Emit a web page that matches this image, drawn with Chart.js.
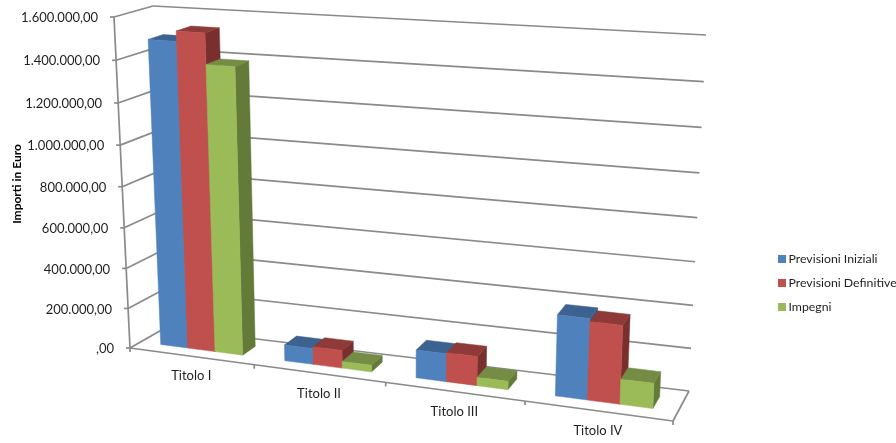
<!DOCTYPE html>
<html>
<head>
<meta charset="utf-8">
<style>
  html, body { margin: 0; padding: 0; background: #fff; }
  canvas { display: block; }
</style>
<script src="https://cdn.jsdelivr.net/npm/chart.js@4"></script>
</head>
<body>
<canvas id="chart" width="896" height="443"></canvas>
<script>
// Importi per titolo di bilancio
const categories = ["Titolo I", "Titolo II", "Titolo III", "Titolo IV"];
const previsioniIniziali = [1487000, 78000, 135000, 382000];
const previsioniDefinitive = [1535000, 87000, 140000, 368000];
const impegni = [1390000, 33000, 40000, 118000];
const yTickLabels = [",00", "200.000,00", "400.000,00", "600.000,00", "800.000,00",
  "1.000.000,00", "1.200.000,00", "1.400.000,00", "1.600.000,00"];

const FONT = "Lato";
const INK = "#1f1f1f";
const GRID = "#8a8a8a";

// Corners of the 3D box, indexed as [width, depth, height] with 0/1 flags.
const CORNERS = {
  "000": [130, 348], "100": [673, 421], "010": [165, 328], "110": [689, 391],
  "001": [114, 17],  "101": [689, 59],  "011": [153, 6],   "111": [706, 35]
};
// Perspective weights: larger means further from the camera.
const WEIGHT = { u: 0.89, v: 1.03, h: 0.95 };
const DEPTH_FRONT = 0.3, DEPTH_BACK = 0.7;

// Rational trilinear mapping from box coordinates to canvas pixels.
function project(u, v, h) {
  let sx = 0, sy = 0, sw = 0;
  for (const a of [0, 1]) for (const b of [0, 1]) for (const c of [0, 1]) {
    const basis = (a ? u : 1 - u) * (b ? v : 1 - v) * (c ? h : 1 - h);
    const wt = basis * (a ? WEIGHT.u : 1) * (b ? WEIGHT.v : 1) * (c ? WEIGHT.h : 1);
    const p = CORNERS["" + a + b + c];
    sx += p[0] * wt; sy += p[1] * wt; sw += wt;
  }
  return [sx / sw, sy / sw];
}

function segment(ctx, a, b) {
  ctx.beginPath();
  ctx.moveTo(a[0], a[1]);
  ctx.lineTo(b[0], b[1]);
  ctx.stroke();
}

function quad(ctx, pts, fill) {
  ctx.fillStyle = fill;
  ctx.strokeStyle = fill;
  ctx.lineWidth = 0.5;
  ctx.beginPath();
  pts.forEach((p, i) => i ? ctx.lineTo(p[0], p[1]) : ctx.moveTo(p[0], p[1]));
  ctx.closePath();
  ctx.fill();
  ctx.stroke();
}

const perspectiveBars = {
  id: "perspectiveBars",
  // The walls, floor and axis text sit behind the bars.
  beforeDatasetsDraw(chart) {
    const ctx = chart.ctx, yScale = chart.scales.y, xScale = chart.scales.x;
    const area = chart.chartArea;
    ctx.save();
    ctx.strokeStyle = GRID;
    ctx.lineWidth = 1.7;
    ctx.lineCap = "butt";

    yScale.ticks.forEach((tick) => {
      const h = (area.bottom - yScale.getPixelForValue(tick.value)) / (area.bottom - area.top);
      segment(ctx, project(0, 0, h), project(0, 1, h));
      segment(ctx, project(0, 1, h), project(1, 1, h));
      const front = project(0, 0, h);
      segment(ctx, [front[0] - 4, front[1]], front);
      ctx.fillStyle = INK;
      ctx.font = "13px " + FONT;
      ctx.textAlign = "right";
      ctx.textBaseline = "middle";
      ctx.fillText(tick.label, front[0] - 16, front[1] + 1);
    });

    // Floor outline and the wall's front edge.
    segment(ctx, project(0, 0, 0), project(0, 0, 1));
    segment(ctx, project(0, 0, 0), project(1, 0, 0));
    segment(ctx, project(1, 0, 0), project(1, 1, 0));

    // Category ticks and names along the front of the floor.
    const n = categories.length;
    for (let i = 0; i <= n; i++) {
      const p = project(i / n, 0, 0);
      segment(ctx, p, [p[0], p[1] + 4]);
    }
    xScale.ticks.forEach((tick, i) => {
      const u = (xScale.getPixelForValue(i) - area.left) / (area.right - area.left);
      const p = project(u, 0, 0);
      ctx.fillStyle = INK;
      ctx.font = "13px " + FONT;
      ctx.textAlign = "center";
      ctx.textBaseline = "middle";
      ctx.fillText(tick.label, p[0], p[1] + 20);
    });

    // Axis title.
    ctx.save();
    ctx.translate(17, 184);
    ctx.rotate(-Math.PI / 2);
    ctx.font = "bold 12px " + FONT;
    ctx.textAlign = "center";
    ctx.textBaseline = "middle";
    ctx.fillStyle = "#000";
    ctx.fillText("Importi in Euro", 0, 0);
    ctx.restore();

    // Legend.
    ctx.font = "12.3px " + FONT;
    ctx.textAlign = "left";
    ctx.textBaseline = "middle";
    chart.data.datasets.forEach((ds, i) => {
      const y = 259 + i * 24;
      ctx.fillStyle = ds.backgroundColor;
      ctx.fillRect(778, y - 4, 8, 8);
      ctx.fillStyle = INK;
      ctx.fillText(ds.label, 788.5, y);
    });
    ctx.restore();
  },
  // The flat bars are replaced by their projected boxes.
  beforeDatasetDraw() {
    return false;
  },
  afterDatasetsDraw(chart) {
    const ctx = chart.ctx, area = chart.chartArea;
    const toU = (x) => (x - area.left) / (area.right - area.left);
    const toH = (y) => (area.bottom - y) / (area.bottom - area.top);
    ctx.save();
    categories.forEach((_, c) => {
      chart.data.datasets.forEach((ds, d) => {
        const bar = chart.getDatasetMeta(d).data[c];
        const u0 = toU(bar.x - bar.width / 2), u1 = toU(bar.x + bar.width / 2);
        const h0 = toH(bar.base), h1 = toH(bar.y);
        const v0 = DEPTH_FRONT, v1 = DEPTH_BACK;
        quad(ctx, [project(u1, v0, h0), project(u1, v1, h0), project(u1, v1, h1), project(u1, v0, h1)], ds.sideColor);
        quad(ctx, [project(u0, v0, h1), project(u1, v0, h1), project(u1, v1, h1), project(u0, v1, h1)], ds.topColor);
        quad(ctx, [project(u0, v0, h0), project(u1, v0, h0), project(u1, v0, h1), project(u0, v0, h1)], ds.backgroundColor);
      });
    });
    ctx.restore();
  }
};

new Chart(document.getElementById("chart"), {
  type: "bar",
  data: {
    labels: categories,
    datasets: [
      { label: "Previsioni Iniziali", data: previsioniIniziali, backgroundColor: "#4F81BD", topColor: "#3C6290", sideColor: "#365A85" },
      { label: "Previsioni Definitive", data: previsioniDefinitive, backgroundColor: "#C0504D", topColor: "#8E3A38", sideColor: "#782F2E" },
      { label: "Impegni", data: impegni, backgroundColor: "#9BBB59", topColor: "#748C43", sideColor: "#637A39" }
    ]
  },
  options: {
    responsive: false,
    animation: false,
    events: [],
    layout: { padding: 0 },
    datasets: { bar: { categoryPercentage: 2 / 3, barPercentage: 1 } },
    plugins: { legend: { display: false }, tooltip: { enabled: false }, title: { display: false } },
    scales: {
      x: { display: false },
      y: {
        display: false,
        min: 0,
        max: 1600000,
        ticks: { stepSize: 200000, callback: (value, i) => yTickLabels[i] }
      }
    }
  },
  plugins: [perspectiveBars]
});
</script>
</body>
</html>
